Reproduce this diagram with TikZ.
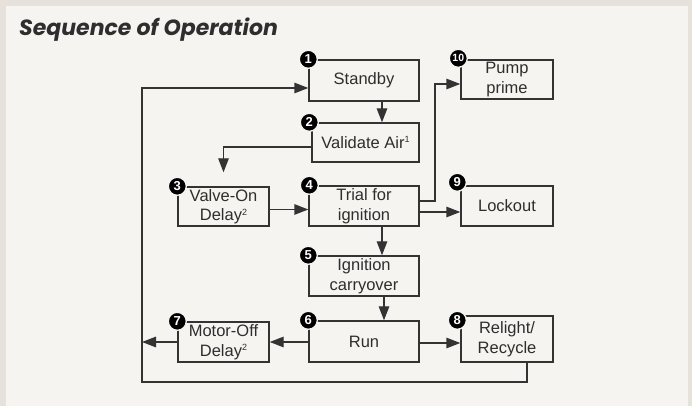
\documentclass[tikz,border=0pt]{standalone}
\usepackage{fontspec}
\setmainfont{Liberation Sans}
\newfontfamily\titlefont{Poppins}
\usetikzlibrary{arrows.meta}

\definecolor{outerbg}{HTML}{E6E1DA}
\definecolor{panelbg}{HTML}{F5F4F1}
\definecolor{linecol}{HTML}{333333}
\definecolor{textcol}{HTML}{2E2E2E}
\newcommand{\noteref}[1]{\raisebox{5.5pt}{\fontsize{9}{9}\selectfont #1}}

\tikzset{
  stepbox/.style={draw=linecol,line width=1.4pt,minimum width=110pt,minimum height=40pt,
    inner sep=0pt,align=center,text=textcol,font=\fontsize{16.5}{19.5}\selectfont},
  smallbox/.style={stepbox,minimum width=91pt},
  badge/.style={circle,fill=black,draw=panelbg,line width=1.3pt,minimum size=18pt,inner sep=0pt,
    text=white,font=\fontsize{13}{13}\selectfont\bfseries},
  flow/.style={draw=linecol,line width=1.4pt,->},
}

\begin{document}
\begin{tikzpicture}[line cap=butt,line join=miter,>={Triangle[length=14pt,width=10.5pt]},x=1pt,y=1pt]
  \useasboundingbox (0,0) rectangle (692,406);
  \fill[outerbg] (0,0) rectangle (692,406);
  \fill[panelbg] (6,0) rectangle (688,400);
  \node[anchor=base west,inner sep=0pt,text=textcol,font=\titlefont\fontsize{22}{22}\selectfont\bfseries\itshape] (title) at (19,370) {Sequence of Operation};
  % boxes
  \node[stepbox,minimum height=41pt] (standby) at (364,325.5) {Standby};
  \node[stepbox,minimum width=107pt,minimum height=39pt] (validate) at (365.5,263.5) {Validate Air\noteref{1}};
  \node[smallbox,minimum height=39pt] (valveon) at (223.5,199.5) {Valve-On\\Delay\noteref{2}};
  \node[stepbox] (trial) at (364,200) {Trial for\\ignition};
  \node[stepbox] (ignition) at (364,130) {Ignition\\carryover};
  \node[stepbox,minimum height=41pt] (run) at (364,64.5) {Run};
  \node[smallbox] (motoroff) at (223.5,64) {Motor-Off\\Delay\noteref{2}};
  \node[stepbox,minimum width=92pt,minimum height=46pt] (relight) at (507,67) {Relight/\\Recycle};
  \node[stepbox,minimum width=92pt,minimum height=39pt] (pump) at (507,326.5) {Pump\\prime};
  \node[stepbox,minimum width=92pt] (lockout) at (507,200) {Lockout};
  % connectors
  \coordinate (loopleft) at (142,64);
  \coordinate (loopbottom) at (142,24);
  \coordinate (pumpturn) at (435,205);
  \draw[flow] ([xshift=18pt]standby.south) -- ([xshift=18pt]standby.south |- validate.north);
  \draw[flow,shorten >=14pt] ([yshift=-4.5pt]validate.west) -| (valveon.north);
  \draw[flow] ([yshift=-3pt]valveon.east) -- ([yshift=-3pt]valveon.east -| trial.west);
  \draw[flow] ([xshift=18pt]trial.south) -- ([xshift=18pt]trial.south |- ignition.north);
  \draw[flow] ([xshift=20pt]ignition.south) -- ([xshift=20pt]ignition.south |- run.north);
  \draw[flow] ([yshift=-0.5pt]run.west) -- ([yshift=-0.5pt]run.west -| motoroff.east);
  \draw[flow] (motoroff.west) -- (loopleft);
  \draw[flow] ([yshift=-1.5pt]run.east) -- ([yshift=-1.5pt]run.east -| relight.west);
  \draw[flow] ([yshift=-6pt]trial.east) -- ([yshift=-6pt]trial.east -| lockout.west);
  \draw[flow] (trial.east |- pumpturn) -- (pumpturn) |- ([yshift=-4.5pt]pump.west);
  \draw[flow] ([xshift=20pt]relight.south) |- (loopbottom) |- ([yshift=-7.5pt]standby.west);
  % numbers
  \node[badge] (n1) at (standby.north west) {1};
  \node[badge] (n2) at ([xshift=-2pt]validate.north west) {2};
  \node[badge] (n3) at (valveon.north west) {3};
  \node[badge] (n4) at ([xshift=1pt]trial.north west) {4};
  \node[badge] (n5) at (ignition.north west) {5};
  \node[badge] (n6) at (run.north west) {6};
  \node[badge] (n7) at (motoroff.north west) {7};
  \node[badge] (n8) at ([xshift=-3pt,yshift=-5pt]relight.north west) {8};
  \node[badge] (n9) at ([xshift=-3pt,yshift=3pt]lockout.north west) {9};
  \node[badge,font=\fontsize{10.5}{10.5}\selectfont\bfseries] (n10) at ([xshift=-2pt,yshift=1pt]pump.north west) {10};
\end{tikzpicture}
\end{document}
